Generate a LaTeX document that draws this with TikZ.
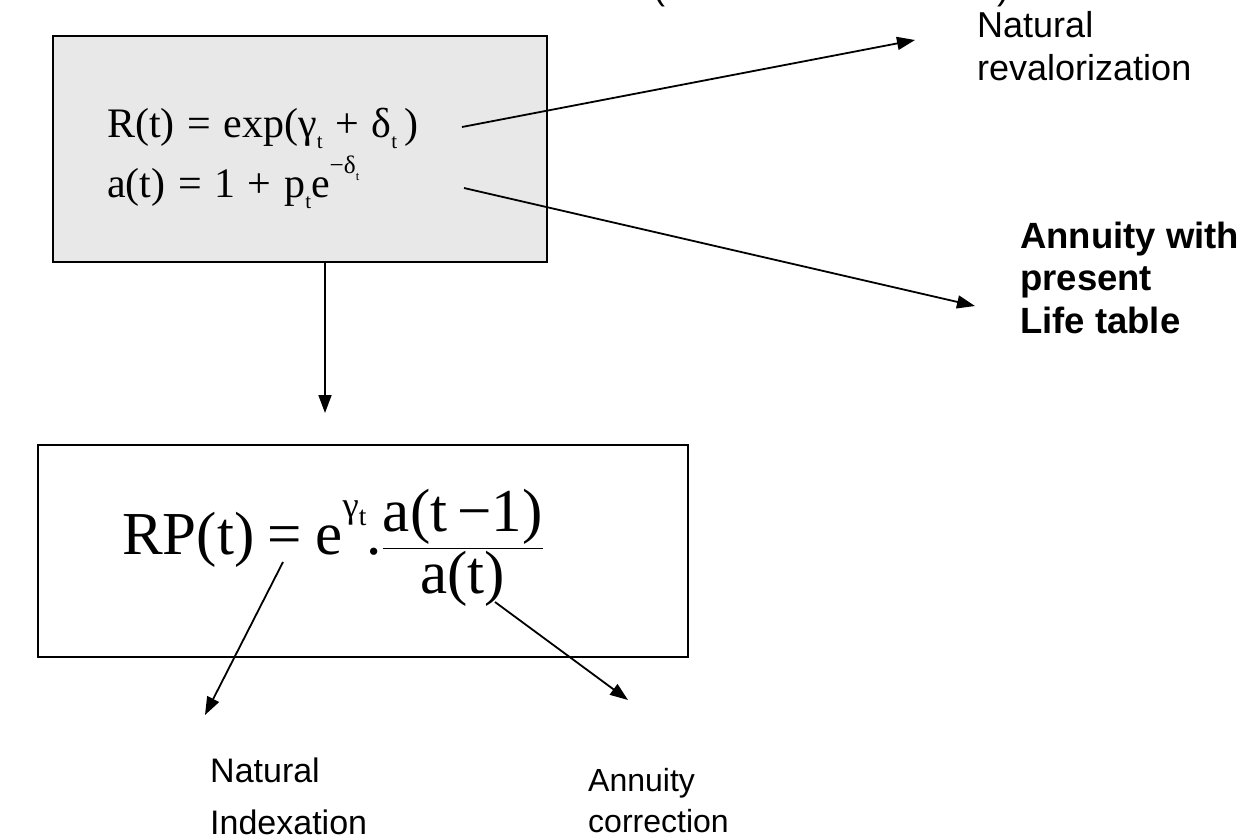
\documentclass[tikz,border=0pt]{standalone}
\usepackage{amsmath}
\usepackage{fontspec}
\setmainfont{Liberation Serif}
\setsansfont{Liberation Sans}
\usetikzlibrary{arrows.meta}
\definecolor{boxgray}{RGB}{232,232,232}
\newcommand\sbt[1]{\raisebox{-0.28em}{\scalebox{0.5}{#1}}}
\newcommand\opsp{\hspace{0.3em}}
\begin{document}
\begin{tikzpicture}[x=1pt,y=-1pt,
  lab/.style={font=\sffamily\fontsize{36}{43}\selectfont, align=left, inner sep=0pt, anchor=base west},
  eqn/.style={font=\fontsize{42}{50}\selectfont, inner sep=0pt, anchor=base west},
  arr/.style={line width=1.8pt, -{Triangle[length=18pt,width=13pt]}},
  boxstyle/.style={draw, line width=2pt, inner sep=0pt}]
\useasboundingbox (0,0) rectangle (1249,838);
% cut-off title parentheses
\node[lab] (lp) at (653,-1) {(};
\node[lab] (rp) at (997,-1) {)};
% boxes
\node[boxstyle, fill=boxgray, minimum width=494pt, minimum height=226pt] (top) at (300,149) {};
\node[boxstyle, minimum width=650pt, minimum height=212pt] (bot) at (363,551) {};
% equations
\node[eqn] (eq1) at (107,137) {R(t)\opsp=\opsp exp(γ\sbt{t}\opsp+\opsp δ\sbt{t}\,)};
\node[eqn] (eq2) at (107,197) {a(t)\opsp=\opsp 1\opsp+\opsp p\sbt{t}e\raisebox{0.55em}{\scalebox{0.6}{−δ\sbt{t}}}};
\node[font=\fontsize{61}{70}\selectfont, inner sep=0pt, anchor=west] (eq3) at (122,548)
  {RP(t)\hspace{0.22em}=\hspace{0.22em}e\raisebox{0.6em}{\scalebox{0.6}{γ\raisebox{-0.22em}{\scalebox{0.75}{t}}}}.$\dfrac{\text{a(t\,−1)}}{\text{a(t)}}$};
% labels
\node[lab] (l1) at (977,80) {Natural\\revalorization};
\node[lab, font=\sffamily\bfseries\fontsize{36.5}{42.5}\selectfont] (l2) at (1020,333) {Annuity with\\present\\Life table};
\node[lab, font=\sffamily\fontsize{34}{52}\selectfont] (l3) at (210,834) {Natural\\Indexation};
\node[lab, font=\sffamily\fontsize{32}{41}\selectfont] (l4) at (588,832) {Annuity\\correction};
% connector ends
\coordinate (a1s) at (462,127);
\coordinate (a1e) at (915,40);
\coordinate (a2s) at (464,188);
\coordinate (a2e) at (975,306);
\coordinate (a3e) at (325,413);
\coordinate (a4s) at (283,562);
\coordinate (a4e) at (205,715);
\coordinate (a5s) at (495,602);
\coordinate (a5e) at (628,700);
\draw[arr] (a1s) -- (a1e);
\draw[arr] (a2s) -- (a2e);
\draw[arr] (top.south -| a3e) -- (a3e);
\draw[arr] (a4s) -- (a4e);
\draw[arr] (a5s) -- (a5e);
\end{tikzpicture}
\end{document}
